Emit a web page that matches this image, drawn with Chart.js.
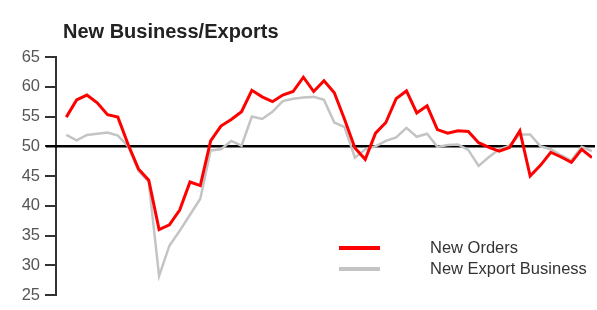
<!DOCTYPE html>
<html>
<head>
<meta charset="utf-8">
<script src="https://cdn.jsdelivr.net/npm/chart.js@4.4.0/dist/chart.umd.min.js"></script>
<style>
  html, body { margin: 0; padding: 0; background: #fff; }
  #wrap { width: 597px; height: 310px; }
</style>
</head>
<body>
<div id="wrap"><canvas id="chart" width="597" height="310"></canvas></div>
<script>
const months = [1, 2, 3, 4, 5, 6, 7, 8, 9, 10, 11, 12, 13, 14, 15, 16, 17, 18, 19, 20,
  21, 22, 23, 24, 25, 26, 27, 28, 29, 30, 31, 32, 33, 34, 35, 36, 37, 38, 39, 40,
  41, 42, 43, 44, 45, 46, 47, 48, 49, 50, 51, 52]

const newOrders = [54.9, 57.8, 58.6, 57.3, 55.3, 54.9, 50.3, 46.2, 44.3, 36.0,
  36.8, 39.3, 44.0, 43.4, 50.9, 53.4, 54.5, 55.8, 59.4, 58.3,
  57.5, 58.6, 59.2, 61.6, 59.2, 61.0, 59.0, 54.5, 49.7, 47.8,
  52.2, 54.0, 58.0, 59.3, 55.6, 56.8, 52.8, 52.2, 52.6, 52.5,
  50.6, 49.8, 49.2, 49.8, 52.6, 45.0, 46.8, 49.0, 48.2, 47.3,
  49.5, 48.1]

const newExportBusiness = [51.9, 51.0, 51.9, 52.1, 52.3, 51.8, 50.0, 45.9, 44.0, 28.2,
  33.3, 35.8, 38.5, 41.2, 49.3, 49.5, 50.9, 50.1, 55.0, 54.6,
  55.8, 57.6, 58.0, 58.2, 58.3, 57.8, 54.0, 53.2, 48.1, 49.5,
  50.0, 50.9, 51.5, 53.1, 51.6, 52.1, 49.9, 50.2, 50.3, 49.4,
  46.7, 48.2, 49.5, 50.1, 52.0, 52.0, 50.0, 49.5, 48.5, 47.6,
  49.9, 49.2]

const yTicks = [25, 30, 35, 40, 45, 50, 55, 60, 65]
const chartTitle = 'New Business/Exports'
const baseline = 50

const fontFamily = '"Liberation Sans", Arial, sans-serif'

// black 50 line, under the series
const baselinePlugin = {
  id: 'baseline',
  beforeDatasetsDraw(chart) {
    const { ctx, chartArea } = chart
    const y = chart.scales.y.getPixelForValue(baseline)
    ctx.save()
    ctx.strokeStyle = '#000'
    ctx.lineWidth = 2.5
    ctx.beginPath()
    ctx.moveTo(chartArea.left - 10, y)
    ctx.lineTo(chartArea.right + 3, y)
    ctx.stroke()
    ctx.restore()
  }
}

// title + legend
const overlayPlugin = {
  id: 'overlay',
  afterDraw(chart) {
    const { ctx } = chart
    ctx.save()
    ctx.fillStyle = '#222'
    ctx.font = 'bold 20px ' + fontFamily
    ctx.textBaseline = 'alphabetic'
    ctx.textAlign = 'left'
    ctx.fillText(chartTitle, 63, 38)

    const rows = [248, 269]
    chart.data.datasets.forEach((ds, i) => {
      const y = rows[i]
      ctx.strokeStyle = ds.borderColor
      ctx.lineWidth = 4
      ctx.beginPath()
      ctx.moveTo(339, y)
      ctx.lineTo(380, y)
      ctx.stroke()
      ctx.fillStyle = '#333'
      ctx.font = '16.5px ' + fontFamily
      ctx.textBaseline = 'middle'
      ctx.fillText(ds.label, 430, y)
    })
    ctx.restore()
  }
}

new Chart(document.getElementById('chart'), {
  type: 'line',
  data: {
    labels: months,
    datasets: [
      {
        label: 'New Orders',
        data: newOrders.map((v, i) => ({ x: months[i], y: v })),
        borderColor: '#ff0000',
        borderWidth: 3,
        pointRadius: 0,
        tension: 0
      },
      {
        label: 'New Export Business',
        data: newExportBusiness.map((v, i) => ({ x: months[i], y: v })),
        borderColor: '#c4c4c4',
        borderWidth: 2.5,
        pointRadius: 0,
        tension: 0
      }
    ]
  },
  options: {
    responsive: false,
    animation: false,
    layout: {
      padding: { top: 57, bottom: 11, left: 0, right: 5 }
    },
    scales: {
      x: {
        type: 'linear',
        min: 0,
        max: 52,
        display: false
      },
      y: {
        min: 25,
        max: 65,
        afterBuildTicks(scale) {
          scale.ticks = yTicks.map((v) => ({ value: v }))
        },
        afterFit(scale) {
          scale.width = 56
        },
        grid: {
          display: true,
          drawOnChartArea: false,
          drawTicks: true,
          tickLength: 11,
          color: '#333',
          lineWidth: 2
        },
        border: {
          display: true,
          color: '#333',
          width: 2
        },
        ticks: {
          color: '#555',
          padding: 5,
          font: {
            family: fontFamily,
            size: 16.5
          }
        }
      }
    },
    plugins: {
      legend: { display: false },
      title: { display: false },
      tooltip: { enabled: false }
    }
  },
  plugins: [baselinePlugin, overlayPlugin]
})
</script>
</body>
</html>
